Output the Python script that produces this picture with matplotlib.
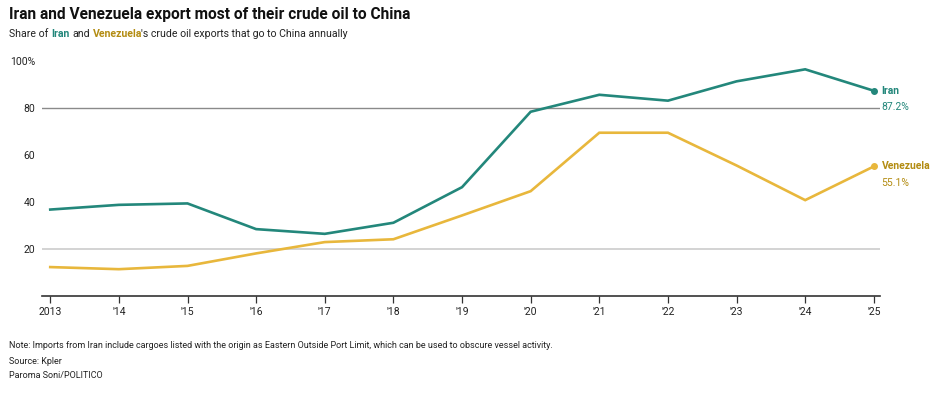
import matplotlib
matplotlib.use("Agg")
import matplotlib.pyplot as plt

years = [2013, 2014, 2015, 2016, 2017, 2018, 2019, 2020, 2021, 2022, 2023, 2024, 2025]
year_labels = ["2013", "'14", "'15", "'16", "'17", "'18", "'19", "'20", "'21", "'22", "'23", "'24", "'25"]
iran = [36.8, 38.8, 39.4, 28.5, 26.5, 31.2, 46.3, 78.3, 85.5, 83.0, 91.2, 96.3, 87.2]
venezuela = [12.4, 11.5, 12.9, 18.2, 23.0, 24.2, 34.3, 44.6, 69.4, 69.4, 55.5, 40.8, 55.1]
y_ticks = [20, 40, 60, 80, 100]
y_tick_labels = ["20", "40", "60", "80", "100%"]

TEAL = "#23877b"
GOLD = "#e8b73c"
GOLD_TXT = "#b38c12"

plt.rcParams['font.family'] = ['Roboto', 'DejaVu Sans']

W, H = 936, 394
fig = plt.figure(figsize=(W / 100, H / 100), dpi=100)
ax = fig.add_axes([42 / W, (H - 296.3) / H, (880 - 42) / W, (296.3 - 60.6) / H])
ax.set_xlim(2012.88, 2025.09)
ax.set_ylim(0, 100)

ax.axhline(80, color="#8a8a8a", lw=1.0, zorder=1)
ax.axhline(20, color="#cccccc", lw=1.2, zorder=1)

ax.plot(years, venezuela, color=GOLD, lw=1.9, zorder=3, solid_joinstyle="miter")
ax.plot(years, iran, color=TEAL, lw=1.9, zorder=4, solid_joinstyle="miter")
ax.plot(years[-1], venezuela[-1], 'o', color=GOLD, ms=4, zorder=5)
ax.plot(years[-1], iran[-1], 'o', color=TEAL, ms=4, zorder=5)

for s in ["top", "right", "left"]:
    ax.spines[s].set_visible(False)
ax.spines["bottom"].set_color("#333333")
ax.spines["bottom"].set_linewidth(1.2)

ax.set_xticks(years)
ax.set_xticklabels(year_labels)
ax.tick_params(axis="x", length=5, width=0.9, color="#333333", labelsize=7.5, pad=3, labelcolor="#222222")
ax.set_yticks(y_ticks)
ax.set_yticklabels(y_tick_labels)
ax.tick_params(axis="y", length=0, labelsize=7.5, pad=5, labelcolor="#222222")

# end labels
ax.annotate("Iran", (years[-1], iran[-1]), xytext=(5.5, 0), textcoords="offset points",
            color=TEAL, fontsize=7.5, fontweight="bold", va="center", ha="left")
ax.annotate(f"{iran[-1]}%", (years[-1], iran[-1]), xytext=(5.5, -12), textcoords="offset points",
            color=TEAL, fontsize=7.5, va="center", ha="left")
ax.annotate("Venezuela", (years[-1], venezuela[-1]), xytext=(5.5, 0), textcoords="offset points",
            color=GOLD_TXT, fontsize=7.5, fontweight="bold", va="center", ha="left")
ax.annotate(f"{venezuela[-1]}%", (years[-1], venezuela[-1]), xytext=(5.5, -12), textcoords="offset points",
            color=GOLD_TXT, fontsize=7.5, va="center", ha="left")

# title and subtitle
fig.text(9 / W, 1 - 15 / H, "Iran and Venezuela export most of their crude oil to China",
         fontsize=11.2, fontweight="bold", color="#111111", va="center", ha="left")

x0 = 9 / W
yb = 1 - 34 / H
# (text, colour, weight, gap before in px)
parts = [("Share of", "#222222", "normal", 0), ("Iran", TEAL, "bold", 3.0), ("and", "#222222", "normal", 3.0),
         ("Venezuela", GOLD_TXT, "bold", 3.0), ("'s crude oil exports that go to China annually", "#222222", "normal", -1.8)]
renderer = fig.canvas.get_renderer()
x = x0
for txt, col, fw, gap in parts:
    x += gap / W
    t = fig.text(x, yb, txt, fontsize=7.6, color=col, fontweight=fw, va="center", ha="left")
    bb = t.get_window_extent(renderer=renderer)
    x += bb.width / W

fig.text(9 / W, 1 - 346 / H,
         "Note: Imports from Iran include cargoes listed with the origin as Eastern Outside Port Limit, which can be used to obscure vessel activity.",
         fontsize=6.5, color="#222222", va="center", ha="left")
fig.text(9 / W, 1 - 361 / H, "Source: Kpler", fontsize=6.5, color="#222222", va="center", ha="left")
fig.text(9 / W, 1 - 376 / H, "Paroma Soni/POLITICO", fontsize=6.5, color="#222222", va="center", ha="left")

fig.savefig("out.png", dpi=100)
